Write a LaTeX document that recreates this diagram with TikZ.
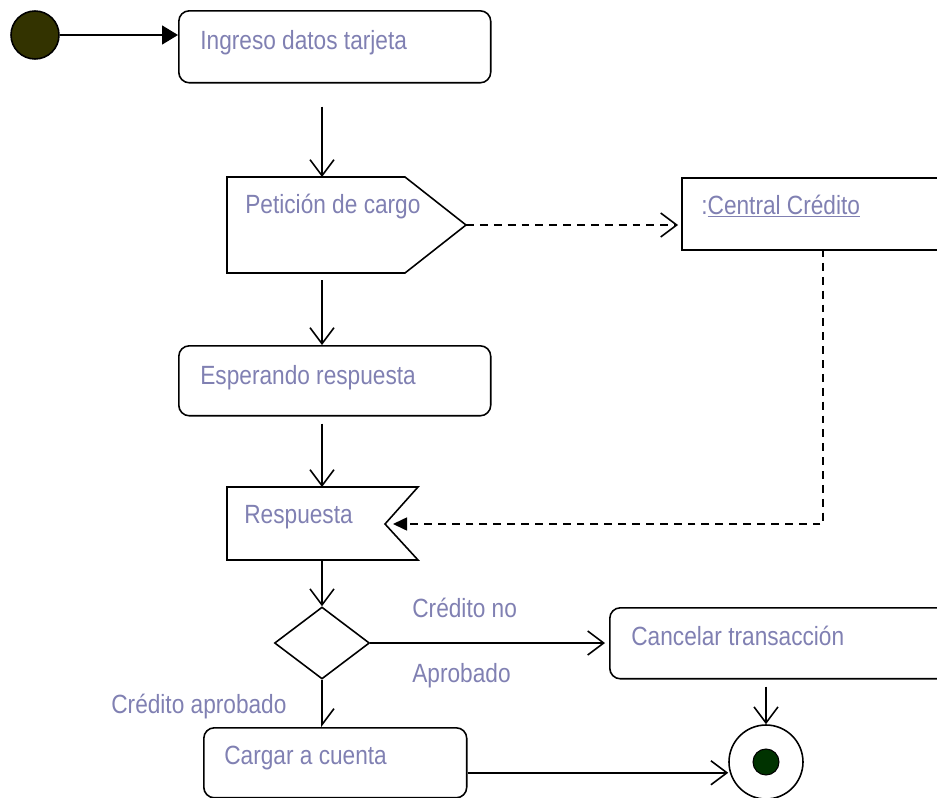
\documentclass[tikz,border=0pt]{standalone}
\usepackage{fontspec}
\setmainfont{Liberation Sans}[FakeStretch=0.86]
\usetikzlibrary{arrows.meta,shapes.geometric}

\definecolor{lblblue}{RGB}{128,128,178}
\definecolor{startfill}{RGB}{51,51,0}
\definecolor{endfill}{RGB}{0,51,0}

\begin{document}
\begin{tikzpicture}[x=0.02cm, y=-0.02cm,
  act/.style={draw, line width=0.9pt, rounded corners=6pt, anchor=north west, inner sep=0pt},
  obj/.style={draw, line width=0.9pt, anchor=north west, inner sep=0pt},
  lbl/.style={text=lblblue, anchor=base west, inner sep=0pt, font=\fontsize{15}{18}\selectfont},
  flow/.style={line width=0.9pt, -{Straight Barb[length=0.32cm, width=0.48cm]}},
  msg/.style={line width=0.9pt, dash pattern=on 4.5pt off 3.4pt}]
\clip (0,0) rectangle (937,798);

% Start and end
\node[circle, draw, fill=startfill, line width=0.9pt, minimum size=0.96cm, inner sep=0pt] (start) at (35,35) {};
\node[circle, draw, line width=0.9pt, minimum size=1.48cm, inner sep=0pt] (fin) at (766,762) {};
\node[circle, draw, fill=endfill, line width=0.6pt, minimum size=0.52cm, inner sep=0pt] (fin-dot) at (fin) {};

% Activities
\node[act, minimum width=6.24cm, minimum height=1.44cm] (ingreso) at (178,10) {};
\node[act, minimum width=6.24cm, minimum height=1.40cm] (esperando) at (178,345) {};
\node[act, minimum width=7.5cm, minimum height=1.42cm] (cancelar) at (609,607) {};
\node[act, minimum width=5.26cm, minimum height=1.40cm] (cargar) at (203,727) {};

% Object
\node[obj, minimum width=6cm, minimum height=1.44cm] (central) at (681,177) {};

% Send signal
\draw[line width=0.9pt] (227,177) -- (405,177) -- (466,225) -- (405,273) -- (227,273) -- cycle;
\coordinate (pet-top) at (322,177);
\coordinate (pet-bot) at (322,273);
\coordinate (pet-tip) at (466,225);

% Receive signal
\draw[line width=0.9pt] (227,487) -- (418,487) -- (385,524) -- (418,560) -- (227,560) -- cycle;
\coordinate (resp-top) at (322,487);
\coordinate (resp-bot) at (322,560);
\coordinate (resp-in) at (393,524);
\coordinate (cc-foot) at (823,249);

% Decision
\node[diamond, draw, line width=0.9pt, minimum width=1.9cm, minimum height=1.44cm, inner sep=0pt] (dec) at (322,643) {};

% Flow
\draw[line width=0.9pt, -{Triangle[length=0.32cm, width=0.38cm]}] (start) -- (start -| ingreso.west);
\draw[flow] ([yshift=-0.46cm]ingreso.south -| pet-top) -- (pet-top);
\draw[flow] ([yshift=-0.14cm]pet-bot) -- (esperando.north -| pet-bot);
\draw[flow] ([yshift=-0.14cm]esperando.south -| pet-bot) -- (resp-top);
\draw[flow] (resp-bot) -- (dec.north);
\draw[flow] (dec.east) -- ([xshift=-0.08cm]cancelar.west |- dec.east);
\draw[line width=0.9pt, -{Straight Barb[harpoon, length=0.32cm, width=0.48cm]}] (dec.south) -- (dec.south |- cargar.north);
\draw[flow] ([yshift=-0.14cm]cancelar.south -| fin) -- (fin.north);
\draw[flow] ([yshift=-0.2cm]cargar.east) -- ([yshift=-0.2cm]cargar.east -| fin.west);

% Messages
\draw[msg, -{Straight Barb[length=0.32cm, width=0.48cm]}] (pet-tip) -- ([xshift=-0.06cm]central.west |- pet-tip);
\draw[msg, -{Triangle[length=0.28cm, width=0.26cm]}] (cc-foot) |- (resp-in);

% Labels
\node[lbl] (ingreso-txt) at (200,49) {Ingreso datos tarjeta};
\node[lbl] (pet-txt) at (245,213) {Petición de cargo};
\node[lbl] (central-txt) at (701,214) {:\underline{Central Crédito}};
\node[lbl] (esp-txt) at (200,384) {Esperando respuesta};
\node[lbl] (resp-txt) at (244,523) {Respuesta};
\node[lbl] (no-txt) at (412,617) {Crédito no};
\node[lbl] (aprob-txt) at (412,682) {Aprobado};
\node[lbl] (cancel-txt) at (631,645) {Cancelar transacción};
\node[lbl] (si-txt) at (111,713) {Crédito aprobado};
\node[lbl] (cargar-txt) at (224,764) {Cargar a cuenta};
\end{tikzpicture}
\end{document}
